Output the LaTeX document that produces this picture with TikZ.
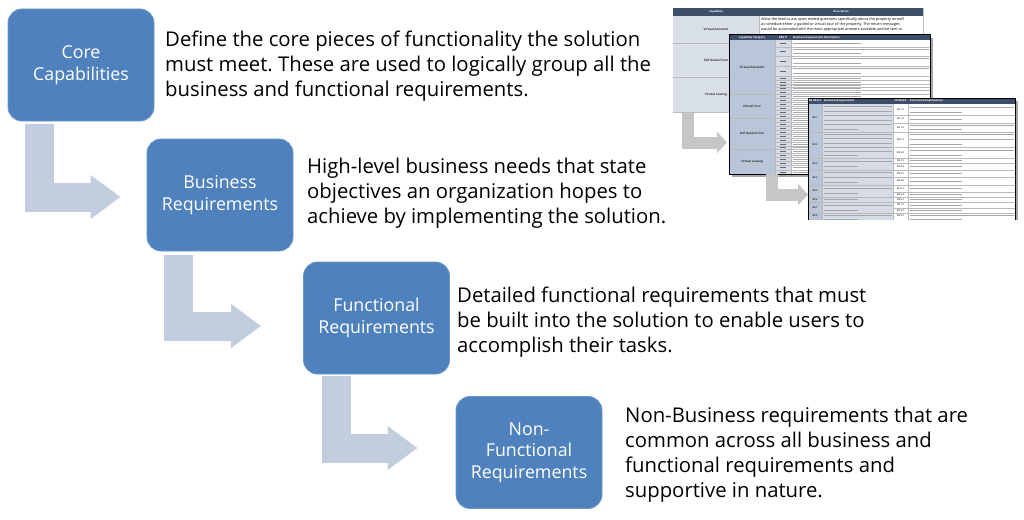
\documentclass[tikz,border=0pt]{standalone}
\usepackage{fontspec}
\setmainfont{Open Sans}
\usepackage{tikz}
\usetikzlibrary{arrows.meta,positioning,calc}
\frenchspacing

\definecolor{boxblue}{HTML}{4F81BD}
\definecolor{boxedge}{HTML}{6A95CC}
\definecolor{bentblue}{HTML}{C2CDE0}
\definecolor{hdrdark}{HTML}{3E4D68}
\definecolor{catfill}{HTML}{B9C5D9}
\definecolor{reqfill}{HTML}{D5DCE8}
\definecolor{capfill}{HTML}{D9DFE8}

% little grey strokes standing in for the unreadable cell text
\newcommand{\txtlines}[4]{%
  \pgfmathtruncatemacro{\tlN}{max(1,floor((#4-#3-1)/4))}%
  \foreach \k in {1,...,\tlN}{%
    \pgfmathsetmacro{\tlY}{#3+0.5+(\k-0.5)*(#4-#3-1)/\tlN}%
    \pgfmathsetmacro{\tlX}{\k==\tlN ? #1+1.5+0.5*(#2-#1-3) : #2-1.5}%
    \draw[txtline] (#1+1.5,\tlY) -- (\tlX,\tlY);
  }%
}

\begin{document}
\begin{tikzpicture}[x=1pt, y=-1pt,
    stage/.style={rectangle, rounded corners=14pt, fill=boxblue, draw=boxedge, line width=0.8pt, minimum width=146pt, minimum height=112pt, align=center, text=white, font=\fontsize{17.8}{21.5}\selectfont},
    desc/.style={anchor=base west, align=left, inner sep=0pt, font=\fontsize{20.3}{25}\selectfont},
    bent/.style={draw=bentblue, line width=29pt, line join=miter, -{Triangle[width=42pt,length=30pt]}},
    thumbarrow/.style={draw=gray!45, line width=12pt, line join=miter, -{Triangle[width=21pt,length=10pt]}},
    sheet/.style={rectangle, anchor=north west, inner sep=0pt, outer sep=0pt, fill=white},
    cell/.style={draw=gray!55, line width=0.4pt},
    txtline/.style={draw=gray!70, line width=0.7pt},
    reqmark/.style={draw=gray!80!black, line width=0.8pt},
    hdrtxt/.style={inner sep=0pt, text=white, font=\fontsize{2.7}{3.2}\selectfont\bfseries},
    cattxt/.style={inner sep=0pt, text=black!80, font=\fontsize{3}{3.6}\selectfont\bfseries},
    cellnum/.style={inner sep=0pt, text=black!80, font=\fontsize{2.3}{2.8}\selectfont\bfseries}
]
    \useasboundingbox (0,0) rectangle (1024,519);

    % stages
    \node[stage] (cap) at (81,65) {Core\\Capabilities};
    \node[stage] (bus) at (220,195) {Business\\Requirements};
    \node[stage] (fun) at (376.5,318) {Functional\\Requirements};
    \node[stage] (nonf) at (529,452.5) {Non-\\Functional\\Requirements};

    % bent arrows between stages
    \draw[bent] ($(cap.south west)+(31.5,3)$) |- ($(bus.west)+(-26,2)$);
    \draw[bent] ($(bus.south west)+(31.5,4)$) |- ($(fun.west)+(-42,8)$);
    \draw[bent] ($(fun.south west)+(33.5,2)$) |- ($(nonf.west)+(-38,-4.5)$);

    % descriptions (anchored on their last line)
    \node[desc] (d1) at (165,96) {Define the core pieces of functionality the solution\\must meet. These are used to logically group all the\\business and functional requirements.};
    \node[desc] (d2) at (307,223) {High-level business needs that state\\objectives an organization hopes to\\achieve by implementing the solution.};
    \node[desc] (d3) at (457,352) {Detailed functional requirements that must\\be built into the solution to enable users to\\accomplish their tasks.};
    \node[desc] (d4) at (625,497) {Non-Business requirements that are\\common across all business and\\functional requirements and\\supportive in nature.};

    % corners of the thumbnail sheets
    \coordinate (t2sw) at (729,174);
    \coordinate (t3nw) at (808,98);

    % thumbnail: capability table
    \node[sheet, draw=gray!50, minimum width=250pt, minimum height=104pt] (t1) at (673,8) {};
    \fill[capfill] (673,16) rectangle (759,112);
    \fill[hdrdark] (673,8) rectangle (923,16);
    \draw[cell] (673,43) -- (923,43) (673,77) -- (923,77) (759,16) -- (759,112);
    \node[hdrtxt] at (716,12) {Capability};
    \node[hdrtxt] at (841,12) {Description};
    \node[cattxt] at (716,29.5) {Virtual Assistant};
    \node[cattxt] at (716,60) {Self Guided Tour};
    \node[cattxt] at (716,94.5) {Virutal Leasing};
    \node[anchor=north west, align=left, inner sep=0pt, font=\fontsize{3.75}{5.2}\selectfont] at (761,17) {Allow the lead to ask open ended questions specifically about the property as well\\as schedule either a guided or virtual tour of the property.  The return messages\\would be automated with the most appropriate answers available and be sent to};

    \draw[thumbarrow] ($(t1.south west)+(15,1)$) |- ($(t2sw)+(-2,-31.5)$);

    % thumbnail: business requirement table
    \fill[black!35] (732,38) rectangle (933,177);
    \node[sheet, draw=black, line width=1pt, minimum width=201pt, minimum height=139pt] (t2) at (729,35) {};
    \fill[catfill] (729,40) rectangle (775,174);
    \fill[reqfill] (775,40) rectangle (791,174);
    \foreach \a/\b in {40/47,47/56,56/66,66/76,76/80,80/84,84/87,87/90,90/94,94/98,98/102,102/106,106/110,110/114,114/118,118/122,122/126,126/130,130/134,134/138,138/142,142/146,146/149,149/153,153/157,157/161,161/165,165/170,170/174}{
        \draw[cell] (775,\b) -- (930,\b);
        \txtlines{791}{930}{\a}{\b}
        \draw[reqmark] (780,{(\a+\b)/2}) -- (786,{(\a+\b)/2});
    }
    \draw[cell] (729,94) -- (775,94) (729,118) -- (775,118) (729,149) -- (775,149) (775,40) -- (775,174) (791,40) -- (791,174);
    \fill[hdrdark] (729,35) rectangle (930,40);
    \node[hdrtxt] at (752,37.5) {Capability Category};
    \node[hdrtxt] at (783,37.5) {REQ \#};
    \node[hdrtxt, anchor=west] at (793,37.5) {Business Requirement Description};
    \node[cattxt] at (752,67) {Virtual Assistant};
    \node[cattxt] at (752,106) {Virtual Tour};
    \node[cattxt] at (752,133.5) {Self Guided Tour};
    \node[cattxt] at (752,161.5) {Virtual Leasing};
    \draw[black, line width=1pt] (729,35) rectangle (930,174);

    \draw[thumbarrow] ($(t2.south west)+(43,0)$) |- ($(t3nw)+(0,96.5)$);

    % thumbnail: functional requirement table
    \begin{scope}
        \clip (600,0) rectangle (1024,219);
        \fill[black!35] (811,101) rectangle (1018,230);
        \node[sheet, draw=black, line width=1pt, minimum width=207pt, minimum height=130pt] (t3) at (t3nw) {};
        \fill[catfill] (808,104) rectangle (822,228);
        \fill[reqfill] (822,104) rectangle (893,228);
        \foreach \a/\b in {104/132,132/158,158/170,170/185,185/197,197/202,202/213,213/222}{
            \draw[cell] (808,\b) -- (893,\b);
            \txtlines{822}{893}{\a}{\b}
        }
        \foreach \a/\b in {104/115,115/123,123/132,132/147,147/158,158/163,163/170,170/177,177/185,185/192,192/197,197/202,202/208,208/213,213/222}{
            \draw[cell] (893,\b) -- (1015,\b);
            \txtlines{908}{1015}{\a}{\b}
        }
        \draw[cell] (822,104) -- (822,228) (893,104) -- (893,228) (908,104) -- (908,228);
        \foreach \n/\yy in {1/118,2/145,3/164,4/177.5,5/191,6/199.5,7/207.5,8/216}
            \node[cellnum] at (815,\yy) {BR \n};
        \foreach \n/\yy in {1.1/109.5,1.2/119,1.3/127.5,2.1/139.5,2.2/152.5,3.1/160.5,3.2/166.5,4.1/173.5,4.2/181,5.1/188.5,5.2/194.5,6.1/199.5,7.1/205,7.2/210.5,8.1/216}
            \node[cellnum] at (900.5,\yy) {FR \n};
        \fill[hdrdark] (808,98) rectangle (1015,104);
        \node[hdrtxt] at (815,101) {BR REQ \#};
        \node[hdrtxt, anchor=west] at (824,101) {Business Requirement};
        \node[hdrtxt] at (900.5,101) {FR REQ \#};
        \node[hdrtxt, anchor=west] at (910,101) {Functional Requirement};
        \draw[black, line width=1pt] (808,228) -- (808,98) -- (1015,98) -- (1015,228);
    \end{scope}
\end{tikzpicture}
\end{document}
